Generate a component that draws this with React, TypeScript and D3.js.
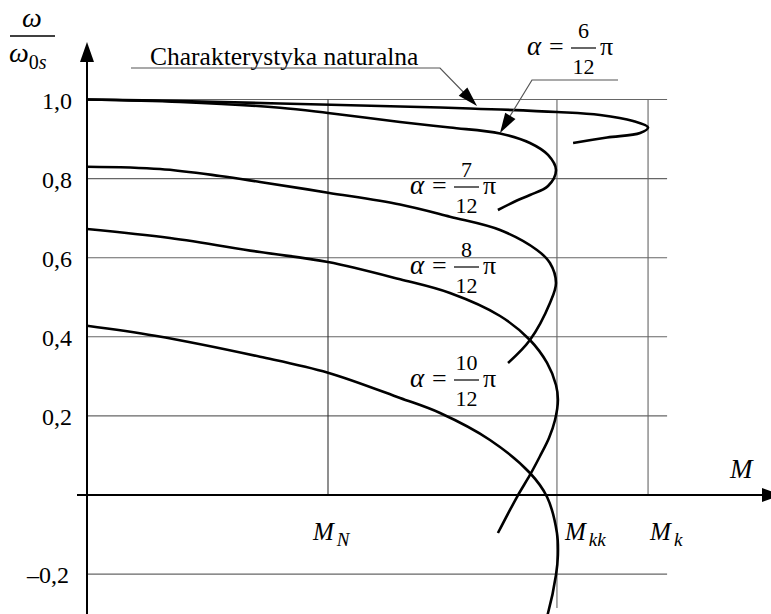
import React from "react";
import * as d3 from "d3";

// Torque axis in units of the rated torque M_N; speed axis as ω / ω0s.
const W = 771;
const H = 614;

const yTicks = [1.0, 0.8, 0.6, 0.4, 0.2, -0.2];
const yTickLabels = ["1,0", "0,8", "0,6", "0,4", "0,2", "–0,2"];

const M_N = 1.0;
const M_KK = 1.95;
const M_K = 2.328;

const torqueMarks = [
  { key: "N", value: M_N, sub: "N", dx: -15 },
  { key: "kk", value: M_KK, sub: "kk", dx: 8 },
  { key: "k", value: M_K, sub: "k", dx: 2 },
];

// [M, ω/ω0s]
const natural: [number, number][] = [
  [0, 1.0], [0.386, 0.9962], [0.801, 0.9899], [1.299, 0.9823], [1.589, 0.9773],
  [1.95, 0.9684], [2.129, 0.9608], [2.266, 0.9456], [2.328, 0.9292],
  [2.295, 0.9153], [2.158, 0.9039], [2.017, 0.89],
];
const alpha6: [number, number][] = [
  [0, 1.0], [0.386, 0.9937], [0.801, 0.9793], [1.0, 0.9659], [1.299, 0.9431],
  [1.506, 0.9292], [1.714, 0.914], [1.838, 0.89], [1.913, 0.8597],
  [1.946, 0.8217], [1.913, 0.7813], [1.838, 0.7585], [1.784, 0.7446],
  [1.705, 0.7206],
];
const alpha7: [number, number][] = [
  [0, 0.8301], [0.303, 0.8243], [0.552, 0.8066], [0.718, 0.7915], [1.0, 0.7644],
  [1.299, 0.7345], [1.506, 0.7037], [1.714, 0.67], [1.867, 0.6195],
  [1.921, 0.5866], [1.946, 0.536], [1.921, 0.4855], [1.838, 0.3919],
  [1.747, 0.3338],
];
const alpha8: [number, number][] = [
  [0, 0.6726], [0.344, 0.6498], [0.718, 0.6143], [1.0, 0.5892], [1.299, 0.5455],
  [1.506, 0.5107], [1.714, 0.4526], [1.838, 0.3919], [1.909, 0.3338],
  [1.946, 0.2781], [1.954, 0.2402], [1.942, 0.1896], [1.917, 0.1441],
  [1.88, 0.0986], [1.838, 0.0506], [1.784, -0.0051], [1.705, -0.0961],
];
const alpha10: [number, number][] = [
  [0, 0.4281], [0.282, 0.4028], [0.718, 0.3497], [1.0, 0.3093],
  [1.299, 0.2453], [1.465, 0.2073], [1.672, 0.1391], [1.838, 0.0556],
  [1.909, -0.0051], [1.95, -0.0961], [1.954, -0.1517], [1.946, -0.2023],
  [1.913, -0.2984], [1.896, -0.329],
];

const curves = [natural, alpha6, alpha7, alpha8, alpha10];

const x = d3.scaleLinear().domain([0, 1]).range([87, 328]);
const y = d3.scaleLinear().domain([0, 1]).range([495, 99.5]);

const gridRight = 2.407;

const line = d3
  .line<[number, number]>()
  .x((d) => x(d[0]))
  .y((d) => y(d[1]))
  .curve(d3.curveCatmullRom.alpha(0.5));

const SERIF = "'Liberation Serif', 'Times New Roman', serif";

function Arrow({ x1, y1, x2, y2, len = 20, half = 6 }: any) {
  const a = Math.atan2(y2 - y1, x2 - x1);
  const bx = x2 - len * Math.cos(a);
  const by = y2 - len * Math.sin(a);
  const px = -Math.sin(a) * half;
  const py = Math.cos(a) * half;
  return (
    <polygon
      points={`${x2},${y2} ${bx + px},${by + py} ${bx - px},${by - py}`}
      fill="#000"
    />
  );
}

function AlphaLabel({ lx, by, num }: { lx: number; by: number; num: string }) {
  const cx = lx + 56.5;
  return (
    <g fontFamily={SERIF} fill="#000">
      <text x={lx} y={by + 7} fontSize={27} fontStyle="italic">α</text>
      <text x={lx + 22} y={by + 7} fontSize={26}>=</text>
      <line x1={lx + 44} x2={lx + 69} y1={by} y2={by} stroke="#000" strokeWidth={1.2} />
      <text x={cx} y={by - 10} fontSize={22} textAnchor="middle">{num}</text>
      <text x={cx} y={by + 26} fontSize={22} textAnchor="middle">12</text>
      <text x={lx + 73} y={by + 7} fontSize={26}>π</text>
    </g>
  );
}

export default function App() {
  return (
    <svg
      width={W}
      height={H}
      style={{ position: "absolute", left: 0, top: 0, background: "#fff" }}
    >
      {/* grid */}
      <g stroke="#666" strokeWidth={1.1}>
        {yTicks.map((t) => (
          <line key={t} x1={x(0)} x2={x(gridRight)} y1={y(t)} y2={y(t)} />
        ))}
        <line x1={x(M_N)} x2={x(M_N)} y1={y(1)} y2={y(0)} stroke="#333" />
        <line x1={x(M_KK)} x2={x(M_KK)} y1={y(1)} y2={608} />
        <line x1={x(M_K)} x2={x(M_K)} y1={y(1)} y2={y(0)} />
      </g>

      {/* axes */}
      <line x1={x(0)} x2={x(0)} y1={60} y2={H} stroke="#000" strokeWidth={2} />
      <polygon points={`${x(0)},42 ${x(0) - 7},62 ${x(0) + 7},62`} fill="#000" />
      <line x1={77} x2={765} y1={y(0)} y2={y(0)} stroke="#000" strokeWidth={2} />
      <polygon points={`782,${y(0)} 762,${y(0) - 7} 762,${y(0) + 7}`} fill="#000" />

      {/* characteristics */}
      <g fill="none" stroke="#000" strokeWidth={2.6}>
        {curves.map((c, i) => (
          <path key={i} d={line(c) ?? ""} />
        ))}
      </g>

      {/* tick labels */}
      <g fontFamily={SERIF} fontSize={24} textAnchor="end" fill="#000">
        {yTicks.map((t, i) => (
          <text key={t} x={t < 0 ? 69 : 72} y={y(t) + 9}>
            {yTickLabels[i]}
          </text>
        ))}
      </g>

      {/* torque labels */}
      <g fontFamily={SERIF} fill="#000" fontStyle="italic">
        {torqueMarks.map((m) => (
          <text key={m.key} x={x(m.value) + m.dx} y={540} fontSize={25}>
            M
            <tspan dx={3} dy={6} fontSize={19}>{m.sub}</tspan>
          </text>
        ))}
        <text x={730} y={478} fontSize={27}>M</text>
      </g>

      {/* ordinate label */}
      <g fontFamily={SERIF} fill="#000">
        <text x={32} y={27} fontSize={28} fontStyle="italic" textAnchor="middle">ω</text>
        <line x1={10} x2={55} y1={36} y2={36} stroke="#000" strokeWidth={1.3} />
        <text x={9} y={62} fontSize={28} fontStyle="italic">
          ω
          <tspan dy={7} fontSize={20} fontStyle="normal">0</tspan>
          <tspan fontSize={20} fontStyle="italic">s</tspan>
        </text>
      </g>

      {/* annotations */}
      <text x={150} y={65} fontFamily={SERIF} fontSize={25.5} fill="#000">
        Charakterystyka naturalna
      </text>
      <g stroke="#555" strokeWidth={1.2} fill="none">
        <polyline points="131,68 440,68 472,101" />
        <polyline points="618,80 532,80 504,126" />
      </g>
      <Arrow x1={440} y1={68} x2={477} y2={106} len={20} half={6} />
      <Arrow x1={532} y1={80} x2={500} y2={133} len={20} half={6} />

      <AlphaLabel lx={527} by={48} num="6" />
      <AlphaLabel lx={410} by={187} num="7" />
      <AlphaLabel lx={410} by={267} num="8" />
      <AlphaLabel lx={410} by={380} num="10" />
    </svg>
  );
}
